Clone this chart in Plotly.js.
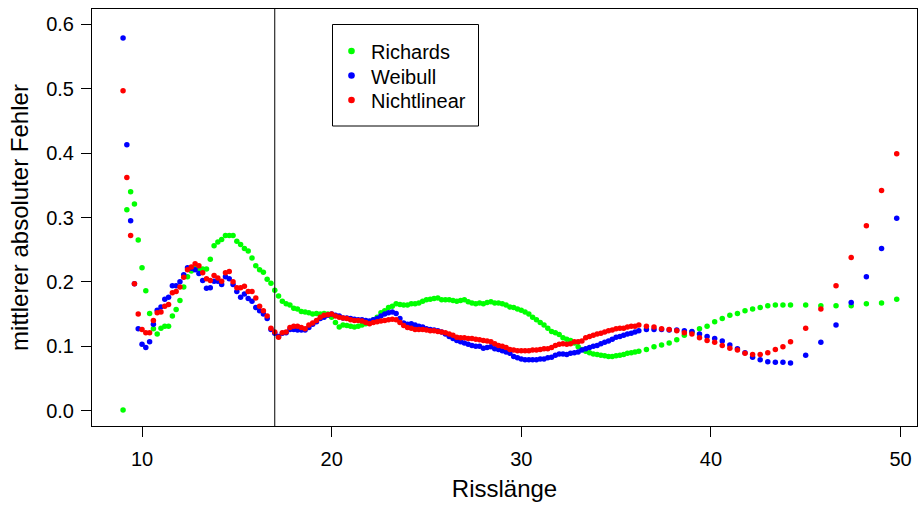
<!DOCTYPE html>
<html>
<head>
<meta charset="utf-8">
<script src="https://cdn.plot.ly/plotly-3.0.1.min.js"></script>
<style>html,body{margin:0;padding:0;background:#fff;}#chart{width:919px;height:507px;}</style>
</head>
<body>
<div id="chart"></div>
<script>
// Risslänge positions
const risslaenge = [
9.0,9.2,9.4,9.6,9.8, 10.0,10.2,10.4,10.6,10.8, 11.0,11.2,11.4,11.6,11.8, 12.0,12.2,12.4,12.6,12.8,
13.0,13.2,13.4,13.6,13.8, 14.0,14.2,14.4,14.6,14.8, 15.0,15.2,15.4,15.6,15.8, 16.0,16.2,16.4,16.6,16.8,
17.0,17.2,17.4,17.6,17.8, 18.0,18.2,18.4,18.6,18.8, 19.0,19.2,19.4,19.6,19.8, 20.0,20.2,20.4,20.6,20.8,
21.0,21.2,21.4,21.6,21.8, 22.0,22.2,22.4,22.6,22.8, 23.0,23.2,23.4,23.6,23.8, 24.0,24.2,24.4,24.6,24.8,
25.0,25.2,25.4,25.6,25.8, 26.0,26.2,26.4,26.6,26.8, 27.0,27.2,27.4,27.6,27.8, 28.0,28.2,28.4,28.6,28.8,
29.0,29.2,29.4,29.6,29.8, 30.0,30.2,30.4,30.6,30.8, 31.0,31.2,31.4,31.6,31.8, 32.0,32.2,32.4,32.6,32.8,
33.0,33.2,33.4,33.6,33.8, 34.0,34.2,34.4,34.6,34.8, 35.0,35.2,35.4,35.6,35.8, 36.0,36.2,
36.6,37.0,37.4,37.8,38.2,38.6,39.0,39.4,39.8,40.2,40.6,41.0,41.4,41.8,42.2,42.6,43.0,43.4,43.8,44.2,
45.0,45.8,46.6,47.4,48.2,49.0,49.8
];

const richards = [
0.001,0.312,0.340,0.321,0.265, 0.222,0.186,0.151,0.127,0.119, 0.128,0.131,0.131,0.147,0.157, 0.171,0.192,0.208,0.217,0.221,
0.220,0.220,0.220,0.235,0.256, 0.262,0.266,0.272,0.272,0.272, 0.263,0.258,0.252,0.248,0.237, 0.225,0.219,0.215,0.204,0.198,
0.187,0.178,0.170,0.166,0.164, 0.159,0.158,0.154,0.153,0.152, 0.150,0.151,0.150,0.151,0.150, 0.145,0.137,0.130,0.133,0.132,
0.131,0.130,0.131,0.133,0.135, 0.138,0.141,0.145,0.152,0.155, 0.160,0.162,0.166,0.165,0.164, 0.164,0.166,0.166,0.167,0.170,
0.172,0.173,0.174,0.175,0.172, 0.172,0.172,0.171,0.170,0.171, 0.172,0.169,0.167,0.166,0.167, 0.166,0.168,0.169,0.167,0.167,
0.166,0.164,0.161,0.160,0.158, 0.156,0.153,0.150,0.145,0.141, 0.137,0.133,0.128,0.123,0.121, 0.118,0.113,0.111,0.109,0.105,
0.099,0.095,0.092,0.090,0.088, 0.087,0.086,0.085,0.084,0.084, 0.085,0.086,0.087,0.089,0.090, 0.091,0.092,
0.095,0.099,0.102,0.105,0.110,0.117,0.122,0.127,0.131,0.138,0.143,0.148,0.151,0.155,0.158,0.160,0.163,0.164,0.164,0.164,
0.164,0.163,0.163,0.163,0.166,0.167,0.173
];

const weibull = [
0.579,0.413,0.295,0.197,0.127, 0.103,0.098,0.107,0.134,0.156, 0.161,0.173,0.176,0.194,0.194, 0.200,0.211,0.222,0.221,0.219,
0.213,0.202,0.190,0.191,0.201, 0.201,0.196,0.208,0.205,0.196, 0.185,0.176,0.181,0.174,0.170, 0.160,0.155,0.150,0.143,0.126,
0.120,0.115,0.120,0.121,0.126, 0.126,0.125,0.125,0.125,0.129, 0.134,0.138,0.143,0.145,0.148, 0.150,0.148,0.147,0.144,0.144,
0.143,0.142,0.141,0.141,0.140, 0.139,0.141,0.143,0.147,0.150, 0.152,0.153,0.151,0.143,0.136, 0.134,0.135,0.133,0.131,0.130,
0.127,0.126,0.125,0.124,0.122, 0.119,0.115,0.112,0.109,0.107, 0.105,0.103,0.101,0.100,0.100, 0.097,0.098,0.099,0.096,0.095,
0.093,0.091,0.089,0.084,0.082, 0.080,0.079,0.079,0.079,0.079, 0.080,0.080,0.082,0.083,0.086, 0.088,0.088,0.087,0.089,0.090,
0.091,0.094,0.096,0.098,0.100, 0.101,0.104,0.106,0.108,0.111, 0.114,0.115,0.117,0.119,0.120, 0.122,0.124,
0.126,0.126,0.126,0.125,0.125,0.124,0.123,0.119,0.115,0.112,0.108,0.102,0.096,0.090,0.083,0.079,0.076,0.075,0.075,0.074,
0.086,0.106,0.133,0.168,0.208,0.252,0.299
];

const nichtlinear = [
0.497,0.362,0.272,0.197,0.150, 0.126,0.121,0.121,0.140,0.152, 0.153,0.162,0.165,0.183,0.185, 0.192,0.207,0.219,0.223,0.228,
0.225,0.214,0.205,0.202,0.210, 0.206,0.201,0.214,0.216,0.200, 0.191,0.191,0.193,0.185,0.185, 0.175,0.162,0.155,0.147,0.128,
0.122,0.114,0.121,0.122,0.129, 0.131,0.131,0.129,0.127,0.133, 0.136,0.140,0.145,0.148,0.149, 0.150,0.147,0.145,0.144,0.143,
0.141,0.140,0.140,0.139,0.137, 0.135,0.137,0.138,0.139,0.140, 0.141,0.142,0.141,0.137,0.132, 0.129,0.128,0.126,0.126,0.126,
0.125,0.124,0.124,0.123,0.122, 0.121,0.119,0.117,0.114,0.113, 0.113,0.112,0.112,0.111,0.110, 0.109,0.108,0.107,0.104,0.101,
0.100,0.098,0.095,0.094,0.093, 0.093,0.093,0.093,0.094,0.094, 0.095,0.096,0.096,0.098,0.101, 0.103,0.104,0.103,0.104,0.107,
0.107,0.108,0.113,0.115,0.117, 0.119,0.120,0.122,0.124,0.125, 0.127,0.128,0.128,0.130,0.131, 0.131,0.133,
0.131,0.130,0.127,0.126,0.124,0.121,0.119,0.113,0.109,0.106,0.101,0.097,0.094,0.089,0.087,0.087,0.090,0.095,0.099,0.107,
0.128,0.158,0.194,0.238,0.287,0.342,0.399
];

const seriesNames = ['Richards', 'Weibull', 'Nichtlinear'];
const seriesColors = ['#00ff00', '#0000ff', '#ff0000'];
const seriesValues = [richards, weibull, nichtlinear];

const xTicks = [10, 20, 30, 40, 50];
const yTicks = [0.0, 0.1, 0.2, 0.3, 0.4, 0.5, 0.6];
const markerLine = 17;

const font = 'Liberation Sans, Arial, Helvetica, sans-serif';

// plot area in pixels
const W = 919, H = 507;
const M = {l: 92, r: 2, t: 9, b: 81};
const pw = W - M.l - M.r, ph = H - M.t - M.b;
const px = v => (v - M.l) / pw;           // pixel x -> paper
const py = v => (H - M.b - v) / ph;       // pixel y -> paper

const traces = seriesNames.map((name, i) => ({
  type: 'scatter',
  mode: 'markers',
  name: name,
  x: risslaenge,
  y: seriesValues[i],
  marker: {color: seriesColors[i], size: 5.5, line: {width: 0}},
  showlegend: false
}));

// custom R-style legend box
const legBox = {x0: 332.5, x1: 478.5, y0: 24.5, y1: 126};
const legRows = [51, 75.5, 100];
const shapes = [{
  type: 'line', xref: 'x', yref: 'paper',
  x0: markerLine, x1: markerLine, y0: 0, y1: 1,
  line: {color: '#000', width: 1}
}, {
  type: 'rect', xref: 'paper', yref: 'paper',
  x0: px(legBox.x0), x1: px(legBox.x1), y0: py(legBox.y1), y1: py(legBox.y0),
  line: {color: '#000', width: 1}, fillcolor: '#fff', layer: 'above'
}];
const annotations = [];
seriesNames.forEach((name, i) => {
  shapes.push({
    type: 'circle', xref: 'paper', yref: 'paper',
    xsizemode: 'pixel', ysizemode: 'pixel',
    xanchor: px(351.5), yanchor: py(legRows[i]),
    x0: -3.3, x1: 3.3, y0: -3.3, y1: 3.3,
    fillcolor: seriesColors[i], line: {width: 0}, layer: 'above'
  });
  annotations.push({
    xref: 'paper', yref: 'paper', x: px(369), y: py(legRows[i] + 1),
    xanchor: 'left', yanchor: 'middle', showarrow: false,
    text: name, font: {family: font, size: 20, color: '#000'}
  });
});

const layout = {
  width: W,
  height: H,
  margin: M,
  paper_bgcolor: '#ffffff',
  plot_bgcolor: '#ffffff',
  font: {family: font, color: '#000', size: 20},
  showlegend: false,
  xaxis: {
    range: [7.362, 50.87],
    tickvals: xTicks,
    ticktext: xTicks.map(String),
    ticks: 'outside', ticklen: 10, tickwidth: 1, tickcolor: '#000',
    showline: true, mirror: true, linecolor: '#000', linewidth: 1,
    showgrid: false, zeroline: false,
    tickfont: {family: font, size: 20, color: '#000'},
    ticklabelstandoff: 5,
    title: {text: 'Risslänge', font: {family: font, size: 24, color: '#000'}, standoff: 11},
    automargin: false
  },
  yaxis: {
    range: [-0.024, 0.624],
    tickvals: yTicks,
    tickformat: '.1f',
    ticks: 'outside', ticklen: 10, tickwidth: 1, tickcolor: '#000',
    showline: true, mirror: true, linecolor: '#000', linewidth: 1,
    showgrid: false, zeroline: false,
    tickfont: {family: font, size: 20, color: '#000'},
    ticklabelstandoff: 3,
    title: {text: 'mittlerer absoluter Fehler', font: {family: font, size: 24, color: '#000'}, standoff: 10},
    automargin: false
  },
  shapes: shapes,
  annotations: annotations
};

Plotly.newPlot('chart', traces, layout, {displayModeBar: false, staticPlot: true});
</script>
</body>
</html>
